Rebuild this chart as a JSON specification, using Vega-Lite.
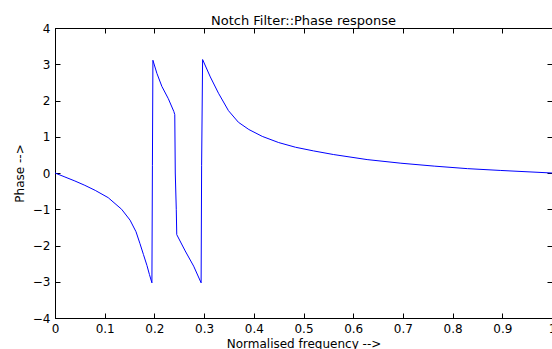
{
  "$schema": "https://vega.github.io/schema/vega-lite/v6.json",
  "autosize": "none",
  "width": 497,
  "height": 290,
  "padding": {"left": 55, "top": 28, "right": 0, "bottom": 31},
  "background": "white",
  "config": {
    "view": {"stroke": "black", "strokeWidth": 1},
    "font": "DejaVu Sans",
    "axis": {
      "grid": false,
      "domainColor": "black",
      "tickColor": "black",
      "tickSize": -5,
      "labelFont": "DejaVu Sans",
      "labelFontSize": 12,
      "labelColor": "black",
      "titleFont": "DejaVu Sans",
      "titleFontSize": 12,
      "titleFontWeight": "normal",
      "titleColor": "black"
    }
  },
  "title": {
    "text": "Notch Filter::Phase response",
    "font": "DejaVu Sans",
    "fontSize": 13,
    "fontWeight": "normal",
    "color": "black",
    "anchor": "middle",
    "baseline": "alphabetic",
    "offset": 5,
    "dy": 21
  },
  "data": {
    "values": [
      {"i": 1, "f": 0.0, "p": 0.0},
      {"i": 2, "f": 0.02, "p": -0.11},
      {"i": 3, "f": 0.04, "p": -0.22},
      {"i": 4, "f": 0.06, "p": -0.34},
      {"i": 5, "f": 0.081, "p": -0.48},
      {"i": 6, "f": 0.107, "p": -0.68},
      {"i": 7, "f": 0.134, "p": -1.0},
      {"i": 8, "f": 0.151, "p": -1.3},
      {"i": 9, "f": 0.163, "p": -1.62},
      {"i": 10, "f": 0.171, "p": -1.95},
      {"i": 11, "f": 0.178, "p": -2.25},
      {"i": 12, "f": 0.185, "p": -2.55},
      {"i": 13, "f": 0.19, "p": -2.8},
      {"i": 14, "f": 0.195, "p": -3.03},
      {"i": 15, "f": 0.196, "p": 0.2},
      {"i": 16, "f": 0.197, "p": 3.11},
      {"i": 17, "f": 0.205, "p": 2.75},
      {"i": 18, "f": 0.215, "p": 2.39},
      {"i": 19, "f": 0.228, "p": 2.05},
      {"i": 20, "f": 0.239, "p": 1.7},
      {"i": 21, "f": 0.241, "p": 1.61},
      {"i": 22, "f": 0.242, "p": 0.0},
      {"i": 23, "f": 0.244, "p": -1.0},
      {"i": 24, "f": 0.245, "p": -1.7},
      {"i": 25, "f": 0.262, "p": -2.15},
      {"i": 26, "f": 0.279, "p": -2.57},
      {"i": 27, "f": 0.294, "p": -3.03},
      {"i": 28, "f": 0.295, "p": 0.2},
      {"i": 29, "f": 0.297, "p": 3.13},
      {"i": 30, "f": 0.3125, "p": 2.65},
      {"i": 31, "f": 0.329, "p": 2.2},
      {"i": 32, "f": 0.349, "p": 1.72},
      {"i": 33, "f": 0.369, "p": 1.4},
      {"i": 34, "f": 0.39, "p": 1.2},
      {"i": 35, "f": 0.417, "p": 1.01},
      {"i": 36, "f": 0.45, "p": 0.84},
      {"i": 37, "f": 0.484, "p": 0.71},
      {"i": 38, "f": 0.52, "p": 0.61},
      {"i": 39, "f": 0.56, "p": 0.51},
      {"i": 40, "f": 0.628, "p": 0.37},
      {"i": 41, "f": 0.696, "p": 0.27},
      {"i": 42, "f": 0.763, "p": 0.19},
      {"i": 43, "f": 0.83, "p": 0.12},
      {"i": 44, "f": 0.897, "p": 0.07},
      {"i": 45, "f": 1.0, "p": 0.0}
    ]
  },
  "layer": [
    {
      "mark": {"type": "line", "color": "#0000ff", "strokeWidth": 1, "clip": true},
      "encoding": {
        "x": {
          "field": "f", "type": "quantitative",
          "scale": {"domain": [0, 1], "nice": false, "zero": false},
          "axis": {"values": [0, 0.1, 0.2, 0.3, 0.4, 0.5, 0.6, 0.7, 0.8, 0.9, 1], "format": "~g", "labelPadding": 10, "labelFlush": false, "labelOverlap": false, "title": "Normalised frequency -->", "titlePadding": 4}
        },
        "y": {
          "field": "p", "type": "quantitative",
          "scale": {"domain": [-4, 4], "nice": false},
          "axis": {"values": [-4, -3, -2, -1, 0, 1, 2, 3, 4], "labelPadding": 10, "labelFlush": false, "labelOverlap": false, "title": "Phase -->", "titlePadding": 6}
        },
        "order": {"field": "i", "type": "quantitative"}
      }
    },
    {
      "mark": {"type": "line", "opacity": 0},
      "encoding": {
        "x": {
          "field": "f", "type": "quantitative",
          "scale": {"domain": [0, 1], "nice": false, "zero": false},
          "axis": {"orient": "top", "values": [0, 0.1, 0.2, 0.3, 0.4, 0.5, 0.6, 0.7, 0.8, 0.9, 1], "labels": false, "domain": false, "title": null}
        },
        "y": {
          "field": "p", "type": "quantitative",
          "scale": {"domain": [-4, 4], "nice": false},
          "axis": {"orient": "right", "values": [-4, -3, -2, -1, 0, 1, 2, 3, 4], "labels": false, "domain": false, "title": null}
        },
        "order": {"field": "i", "type": "quantitative"}
      }
    }
  ],
  "resolve": {"axis": {"x": "independent", "y": "independent"}}
}
